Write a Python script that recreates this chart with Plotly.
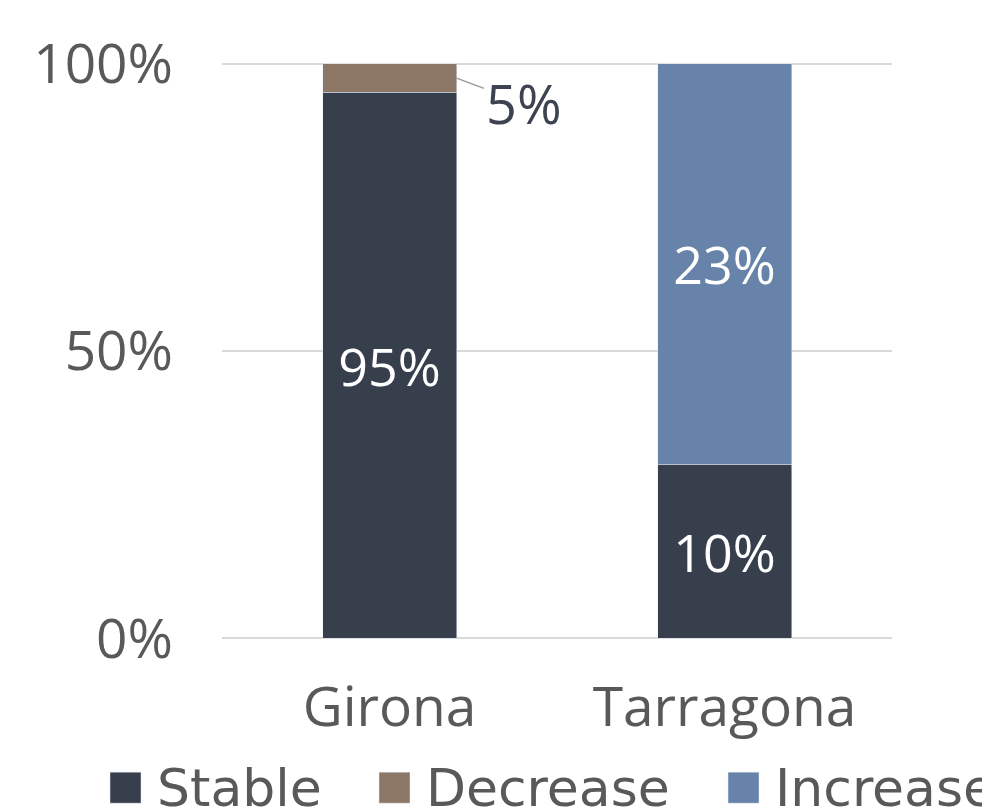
import plotly.graph_objects as go

# ---- data ----
categories = ["Girona", "Tarragona"]
stable = [95, 10]
decrease = [5, None]
increase = [None, 23]
y_ticks = [0, 50, 100]
y_tick_labels = ["0%", "50%", "100%"]

# ---- style ----
C_STABLE = "#373e4c"
C_DECREASE = "#8c7766"
C_INCREASE = "#6783a9"
TXT = "#595959"
FONT = "Open Sans"
LEG_FONT = "DejaVu Sans"
BARGAP = 0.6
W, H = 982, 804          # page body has an 8px margin
PAD = 0.3                # small y padding so the 0%/100% gridlines are drawn
PX_PER_UNIT = 5.74
ML, MR = 214, 98
MT = 56 - PAD * PX_PER_UNIT
MB = 174 - PAD * PX_PER_UNIT
PLOT_W = W - ML - MR
PLOT_H = H - MT - MB


def labels(vals, show=True):
    return [f"{v}%" if (v is not None and show) else "" for v in vals]


fig = go.Figure()
fig.add_trace(go.Bar(
    name="Stable", x=categories, y=stable, marker_color=C_STABLE,
    text=labels(stable), textposition="inside", insidetextanchor="middle",
    textfont=dict(color="white", size=52, family=FONT),
    legendwidth=201,
))
fig.add_trace(go.Bar(
    name="Decrease", x=categories, y=decrease, marker_color=C_DECREASE,
    text=labels(decrease, show=False), textposition="none",
    legendwidth=281,
))
fig.add_trace(go.Bar(
    name="Increase", x=categories, y=increase, marker_color=C_INCREASE,
    text=labels(increase), textposition="inside", insidetextanchor="middle",
    textfont=dict(color="white", size=52, family=FONT),
    legendwidth=190,
))

# leader-line label for the small Girona "Decrease" segment
g_total = stable[0] + decrease[0]
dec_mid = (stable[0] + decrease[0] / 2) / g_total * 100
fig.add_annotation(
    x=(1 - BARGAP) / 2, y=dec_mid, xref="x", yref="y",
    text=f"{decrease[0]}%", showarrow=True, arrowhead=0, arrowwidth=1.5,
    arrowcolor="#9a9a9a", ax=67, ay=25, standoff=0,
    font=dict(size=54, color="#3d4350", family=FONT),
)

fig.update_layout(
    width=W, height=H,
    barmode="stack", barnorm="percent", bargap=BARGAP,
    plot_bgcolor="white", paper_bgcolor="white",
    margin=dict(l=ML, r=MR, t=MT, b=MB, autoexpand=False),
    font=dict(family=FONT, color=TXT),
    showlegend=True,
    legend=dict(
        orientation="h", x=(86 - ML) / PLOT_W, xanchor="left",
        y=-(737 - (H - MB)) / PLOT_H, yanchor="top", itemwidth=53,
        font=dict(size=52, color=TXT, family=LEG_FONT),
        traceorder="normal", bgcolor="rgba(0,0,0,0)",
    ),
)
fig.update_xaxes(
    type="category", tickfont=dict(size=55, color=TXT, family=FONT),
    showgrid=False, showline=False, ticklabelstandoff=30,
)
fig.update_yaxes(
    range=[-PAD, 100 + PAD], tickvals=y_ticks, ticktext=y_tick_labels,
    tickfont=dict(size=55, color=TXT, family=FONT),
    showgrid=True, gridcolor="#d9d9d9", gridwidth=2, zeroline=False,
    showline=False, ticklabelstandoff=48,
)

post = """
var gd = document.getElementById('{plot_id}');
function bigLegend(){
  gd.querySelectorAll('.legend .legendpoints path').forEach(function(p){
    p.setAttribute('d', 'M15.5,17.5H-15.5V-13.5H15.5Z');
  });
  gd.querySelectorAll('.legend, .legend [clip-path]').forEach(function(s){
    s.removeAttribute('clip-path');
  });
}
bigLegend();
gd.on('plotly_afterplot', bigLegend);
"""

fig.write_html("out.html", post_script=post)
